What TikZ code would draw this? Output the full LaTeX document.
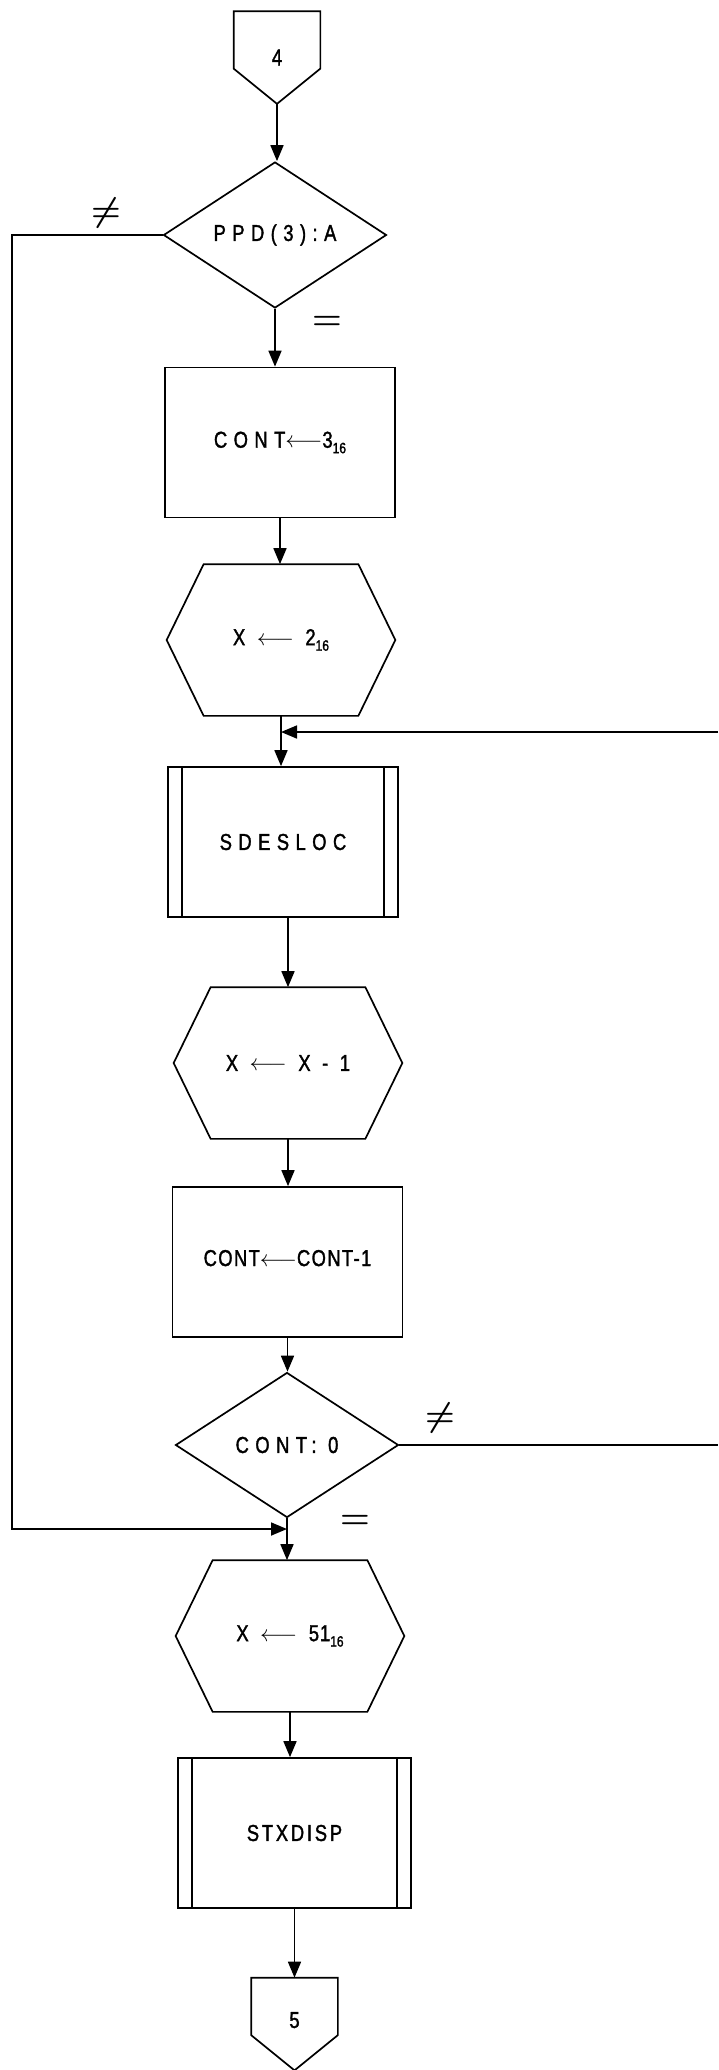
\RequirePackage{fix-cm}
\documentclass[tikz,border=0pt]{standalone}
\usepackage{fontspec}
\newfontfamily\leroy[LetterSpace=28,FakeStretch=0.8,FakeBold=1.5]{Liberation Sans}
\usetikzlibrary{shapes.geometric,arrows.meta,calc}
\newcommand\hexsub[1]{\raisebox{-0.45ex}{\addfontfeature{LetterSpace=0}\fontsize{15}{15}\selectfont #1}}

\begin{document}
\begin{tikzpicture}[x=1pt,y=-1pt,
  line width=1.7pt,
  font=\leroy\fontsize{23}{26}\selectfont,
  flow/.style={-{Triangle[length=16pt,width=13pt]}},
  conn/.style={rectangle,minimum width=85pt,minimum height=91pt,inner sep=0pt},
  test/.style={diamond,draw,aspect=1.5,minimum width=223pt,minimum height=146pt,inner sep=0pt},
  proc/.style={rectangle,draw,minimum width=230pt,minimum height=150pt,inner sep=0pt},
  hexa/.style={rectangle,minimum width=227pt,minimum height=150pt,inner sep=0pt},
  subr/.style={rectangle,draw,minimum width=230pt,minimum height=150pt,inner sep=0pt},
  rel/.style={font=\fontsize{34}{38}\selectfont\boldmath},
]
  \useasboundingbox (0,0) rectangle (718,2070);

  % boxes
  \node[conn] (c4) at (277,57.5) {4};
  \node[test] (d1) at (275,235) {PPD(3):A};
  \node[proc] (r1) at (280,442.5) {\raisebox{5pt}{CONT$\longleftarrow$3\hexsub{16}}};
  \node[hexa] (hx1) at (281,640) {X $\longleftarrow$ 2\hexsub{16}};
  \node[subr] (s1) at (283,842) {SDESLOC};
  \node[hexa] (hx2) at (288,1063) {X $\longleftarrow$ X - 1};
  \node[proc] (r2) at (287.5,1262) {\addfontfeature{LetterSpace=6}\raisebox{8pt}{CONT$\longleftarrow$CONT-1}};
  \node[test,minimum height=145pt] (d2) at (287,1445) {CONT: 0};
  \node[hexa] (hx3) at (290,1636) {X $\longleftarrow$ {\addfontfeature{LetterSpace=4}51}\hexsub{16}};
  \node[subr,minimum width=233pt] (s2) at (294.5,1833) {\addfontfeature{LetterSpace=12}STXDISP};
  \node[conn] (c5) at (294.5,2024) {\raisebox{8pt}{5}};

  % outlines
  \foreach \n in {c4,c5}
    \draw (\n.north west) -- (\n.north east) -- ($(\n.north east)!0.62!(\n.south east)$)
      -- (\n.south) -- ($(\n.north west)!0.62!(\n.south west)$) -- cycle;
  \foreach \n in {hx1,hx2,hx3}
    \draw ($(\n.north west)+(37,0)$) -- ($(\n.north east)+(-37,0)$) -- (\n.east)
      -- ($(\n.south east)+(-37,0)$) -- ($(\n.south west)+(37,0)$) -- (\n.west) -- cycle;
  \foreach \n in {s1,s2} {
    \draw ($(\n.north west)+(15,0)$) -- ($(\n.south west)+(15,0)$);
    \draw ($(\n.north east)+(-15,0)$) -- ($(\n.south east)+(-15,0)$);
  }

  % flow lines
  \draw[flow] (c4.south) -- (c4.south |- d1.north);
  \draw[flow] (d1.south) -- (d1.south |- r1.north);
  \draw[flow] (r1.south) -- (r1.south |- hx1.north);
  \draw[flow] (hx1.south) -- (hx1.south |- s1.north);
  \draw[flow] (hx2.north |- s1.south) -- (hx2.north);
  \draw[flow] (hx2.south) -- (hx2.south |- r2.north);
  \draw[flow] (r2.south) -- (r2.south |- d2.north);
  \draw[flow] (d2.south) -- (d2.south |- hx3.north);
  \draw[flow] (hx3.south) -- (hx3.south |- s2.north);
  \draw[flow] (s2.south) -- (s2.south |- c5.north);

  % loops
  \coordinate (lft) at (12,1529);
  \coordinate (jn2) at (d2.south |- lft);
  \draw[flow] (d1.west) -- (d1.west -| lft) -- (lft) -- (jn2);
  \coordinate (rgt) at (718,732);
  \coordinate (jn1) at (hx1.south |- rgt);
  \draw (d2.east) -- (d2.east -| rgt);
  \draw[flow] (rgt) -- (jn1);

  % branch labels
  \node[rel] (ne1) at (106,213) {$\neq$};
  \node[rel] (eq1) at (327,323) {$=$};
  \node[rel] (ne2) at (440,1418) {$\neq$};
  \node[rel] (eq2) at (355,1522) {$=$};
\end{tikzpicture}
\end{document}
